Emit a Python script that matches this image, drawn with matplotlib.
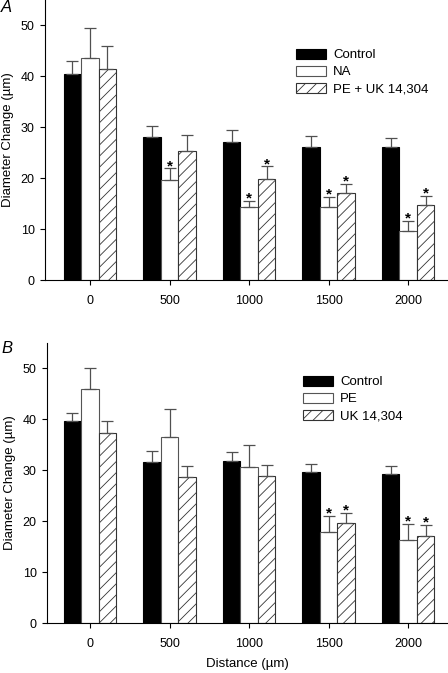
import numpy as np
import matplotlib
matplotlib.use("Agg")
import matplotlib.pyplot as plt

plt.rcParams['font.family'] = ['Liberation Sans', 'DejaVu Sans']
plt.rcParams['hatch.linewidth'] = 0.6

categories = ["0", "500", "1000", "1500", "2000"]

# Panel A
a_labels = ["Control", "NA", "PE + UK 14,304"]
a_control = [40.5, 28.1, 27.1, 26.1, 26.2]
a_control_top = [42.9, 30.2, 29.4, 28.3, 27.9]
a_na = [43.5, 19.7, 14.4, 14.3, 9.7]
a_na_top = [49.5, 21.9, 15.5, 16.3, 11.7]
a_peuk = [41.3, 25.3, 19.8, 17.1, 14.8]
a_peuk_top = [45.8, 28.5, 22.3, 18.8, 16.6]
a_na_sig = [False, True, True, True, True]
a_peuk_sig = [False, False, True, True, True]

# Panel B
b_labels = ["Control", "PE", "UK 14,304"]
b_control = [39.6, 31.6, 31.8, 29.6, 29.2]
b_control_top = [41.2, 33.8, 33.6, 31.2, 30.9]
b_pe = [45.9, 36.6, 30.6, 17.8, 16.3]
b_pe_top = [50.1, 42.0, 34.9, 21.1, 19.5]
b_uk = [37.4, 28.7, 28.9, 19.6, 17.1]
b_uk_top = [39.6, 30.8, 31.0, 21.6, 19.3]
b_pe_sig = [False, False, False, True, True]
b_uk_sig = [False, False, False, True, True]

fig = plt.figure(figsize=(4.48, 6.73), dpi=100)
W, H = 448, 673

def make_ax(left_px, top_px, bottom_px):
    left = left_px / W
    return fig.add_axes([left, 1 - bottom_px / H, 1 - left, (bottom_px - top_px) / H])

def panel(ax, left_px, labels, series, tops, sigs, leg_xy, xlabel=False):
    x = np.arange(len(categories))
    w = 0.22
    styles = [dict(color='black', edgecolor='black'),
              dict(color='white', edgecolor='#555555'),
              dict(color='white', edgecolor='#333333', hatch='///')]
    handles = []
    for i, (vals, top, st) in enumerate(zip(series, tops, styles)):
        pos = x + (i - 1) * w
        vals = np.array(vals); top = np.array(top)
        b = ax.bar(pos, vals, width=w, linewidth=0.8, label=labels[i], zorder=2, **st)
        handles.append(b)
        ax.errorbar(pos, vals, yerr=[np.zeros_like(vals), top - vals], fmt='none',
                    ecolor='#505050', elinewidth=0.9, capsize=4, capthick=0.9, zorder=3)
        if sigs[i] is not None:
            for p, t, s in zip(pos, top, sigs[i]):
                if s:
                    ax.text(p, t - 0.3, '*', ha='center', va='baseline', fontsize=11,
                            fontweight='bold')
    # category 0 sits at x = 90 px, spacing 79.6 px
    ax.set_xlim(-(90 - left_px) / 79.6, 4.5)
    ax.set_ylim(0, 55)
    ax.set_yticks([0, 10, 20, 30, 40, 50])
    ax.set_xticks(x)
    ax.set_xticklabels(categories)
    for s in ['top', 'right']:
        ax.spines[s].set_visible(False)
    ax.spines['left'].set_linewidth(0.8)
    ax.spines['bottom'].set_linewidth(0.8)
    ax.tick_params(axis='both', labelsize=9, width=0.8, length=3.5)
    ax.tick_params(axis='x', pad=7)
    ax.set_ylabel('Diameter Change (µm)', fontsize=9.5, labelpad=5)
    if xlabel:
        ax.set_xlabel('Distance (µm)', fontsize=9.5, labelpad=6)
    ax.legend(handles=handles, loc='upper left', bbox_to_anchor=(leg_xy[0] / W, 1 - leg_xy[1] / H),
              bbox_transform=fig.transFigure, frameon=False, fontsize=9.5,
              handlelength=2.3, handleheight=0.75, labelspacing=0.35, borderpad=0,
              borderaxespad=0, handletextpad=0.5)

axA = make_ax(44.5, -0.5, 280.3)
panel(axA, 44.5, a_labels, [a_control, a_na, a_peuk], [a_control_top, a_na_top, a_peuk_top],
      [None, a_na_sig, a_peuk_sig], (296, 49))
axB = make_ax(46.5, 343, 623)
panel(axB, 46.5, b_labels, [b_control, b_pe, b_uk], [b_control_top, b_pe_top, b_uk_top],
      [None, b_pe_sig, b_uk_sig], (303, 376), xlabel=True)

fig.text(1 / W, 1 - 7 / H, 'A', fontsize=12, style='italic', va='center', ha='left')
fig.text(1 / W, 1 - 348 / H, 'B', fontsize=12, style='italic', va='center', ha='left')

fig.savefig('out.png', dpi=100)
